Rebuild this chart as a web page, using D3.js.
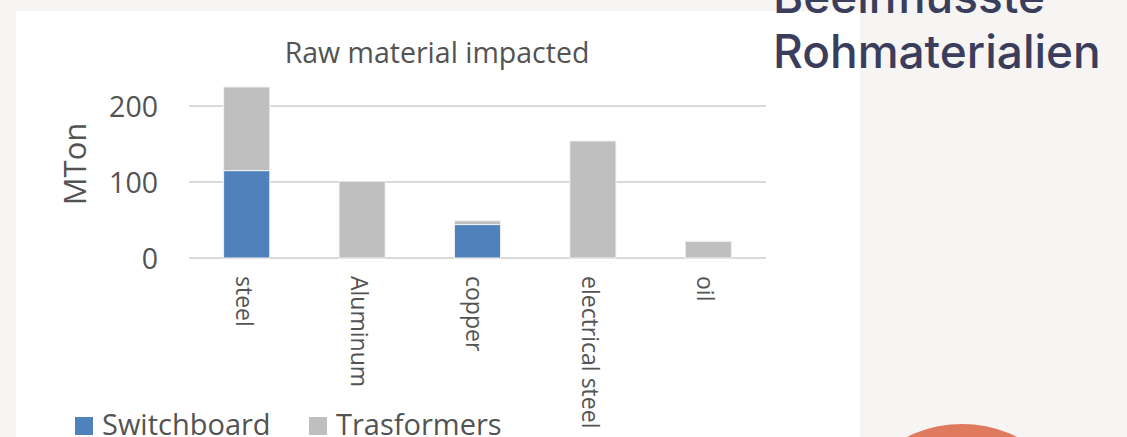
<!DOCTYPE html>
<html>
<head>
<meta charset="utf-8">
<script src="https://cdn.jsdelivr.net/npm/d3@7"></script>
<style>
  html, body { margin: 0; padding: 0; background: #f6f5f3; }
  svg { display: block; }
</style>
</head>
<body>
<svg id="chart" width="1127" height="437"></svg>
<script>
// Raw material quantities (MTon) per equipment type
const categories = ["steel", "Aluminum", "copper", "electrical steel", "oil"];
const switchboard = [115, 0, 44, 0, 0];
const transformers = [110, 101, 5, 154, 22];
const seriesNames = ["Switchboard", "Trasformers"];
const seriesColors = ["#4f81bd", "#bfbfbf"];
const yTicks = [0, 100, 200];
const chartTitle = "Raw material impacted";
const yAxisTitle = "MTon";
const sideHeading = ["Beeinflusste", "Rohmaterialien"];

const svg = d3.select("#chart");
const W = 1127, H = 437;

// page background and white chart panel
svg.append("rect").attr("width", W).attr("height", H).attr("fill", "#f6f5f3");
svg.append("rect").attr("x", 16).attr("y", 11).attr("width", 844).attr("height", H - 11).attr("fill", "#ffffff");

// decorative circle bottom right
svg.append("circle").attr("cx", 962).attr("cy", 547).attr("r", 123).attr("fill", "#e07a5f");

// side heading
const heading = svg.append("text")
  .attr("font-family", "Inter, 'Noto Sans', sans-serif")
  .attr("font-size", 46)
  .attr("font-weight", 500)
  .attr("fill", "#3a3d5c");
heading.selectAll("tspan").data(sideHeading).join("tspan")
  .attr("x", 773)
  .attr("y", (d, i) => 13 + i * 55)
  .text(d => d);

// scales
const x = d3.scaleBand().domain(categories).range([189, 766]).paddingInner(0.6).paddingOuter(0.3);
const y = d3.scaleLinear().domain([0, 250]).range([258, 68]);

const textColor = "#535353";
const font = "'Open Sans', 'Noto Sans', sans-serif";

// gridlines
svg.append("g").selectAll("line").data(yTicks).join("line")
  .attr("x1", 189).attr("x2", 766)
  .attr("y1", d => y(d)).attr("y2", d => y(d))
  .attr("stroke", "#d9d9d9").attr("stroke-width", 2);

// y axis labels
const yAxis = d3.axisLeft(y).tickValues(yTicks).tickSize(0).tickPadding(0);
const yg = svg.append("g").attr("transform", "translate(158,0)").call(yAxis);
yg.select(".domain").remove();
yg.selectAll("text")
  .attr("font-family", font).attr("font-size", 28.5).attr("fill", textColor)
  .attr("dy", "0.36em");

// stacked bars
const rows = categories.map((c, i) => ({ cat: c, Switchboard: switchboard[i], Trasformers: transformers[i] }));
const stacked = d3.stack().keys(seriesNames)(rows);
svg.append("g").selectAll("g").data(stacked).join("g")
  .attr("fill", (d, i) => seriesColors[i])
  .selectAll("rect").data(d => d.filter(s => s[1] - s[0] > 0)).join("rect")
  .attr("x", d => x(d.data.cat))
  .attr("width", x.bandwidth())
  .attr("y", d => y(d[1]))
  .attr("height", d => y(d[0]) - y(d[1]))
  .attr("stroke", "#f2f2f2").attr("stroke-width", 1);

// category labels, rotated to read downward
const xAxis = d3.axisBottom(x).tickSize(0).tickPadding(0);
const xg = svg.append("g").attr("transform", "translate(0,276)").call(xAxis);
xg.select(".domain").remove();
xg.selectAll("text")
  .attr("font-family", font).attr("font-size", 23).attr("fill", textColor)
  .attr("text-anchor", "start")
  .attr("transform", "rotate(90)")
  .attr("x", 0).attr("y", 0).attr("dy", "0.35em")
  .attr("dx", 0);
xg.selectAll(".tick").attr("transform", d => `translate(${x(d) + x.bandwidth() / 2 - 3},0)`);

// chart title
svg.append("text")
  .attr("x", 437).attr("y", 63)
  .attr("text-anchor", "middle")
  .attr("font-family", font).attr("font-size", 28.5).attr("fill", textColor)
  .text(chartTitle);

// y axis title
svg.append("text")
  .attr("transform", "translate(86,164) rotate(-90)")
  .attr("text-anchor", "middle")
  .attr("font-family", font).attr("font-size", 31).attr("fill", textColor)
  .text(yAxisTitle);

// legend
const legend = svg.append("g");
const legendX = [75, 309];
seriesNames.forEach((name, i) => {
  legend.append("rect")
    .attr("x", legendX[i]).attr("y", 417).attr("width", 18).attr("height", 18)
    .attr("fill", seriesColors[i]);
  legend.append("text")
    .attr("x", legendX[i] + 27).attr("y", 435)
    .attr("font-family", font).attr("font-size", 29).attr("fill", textColor)
    .text(name);
});
</script>
</body>
</html>
